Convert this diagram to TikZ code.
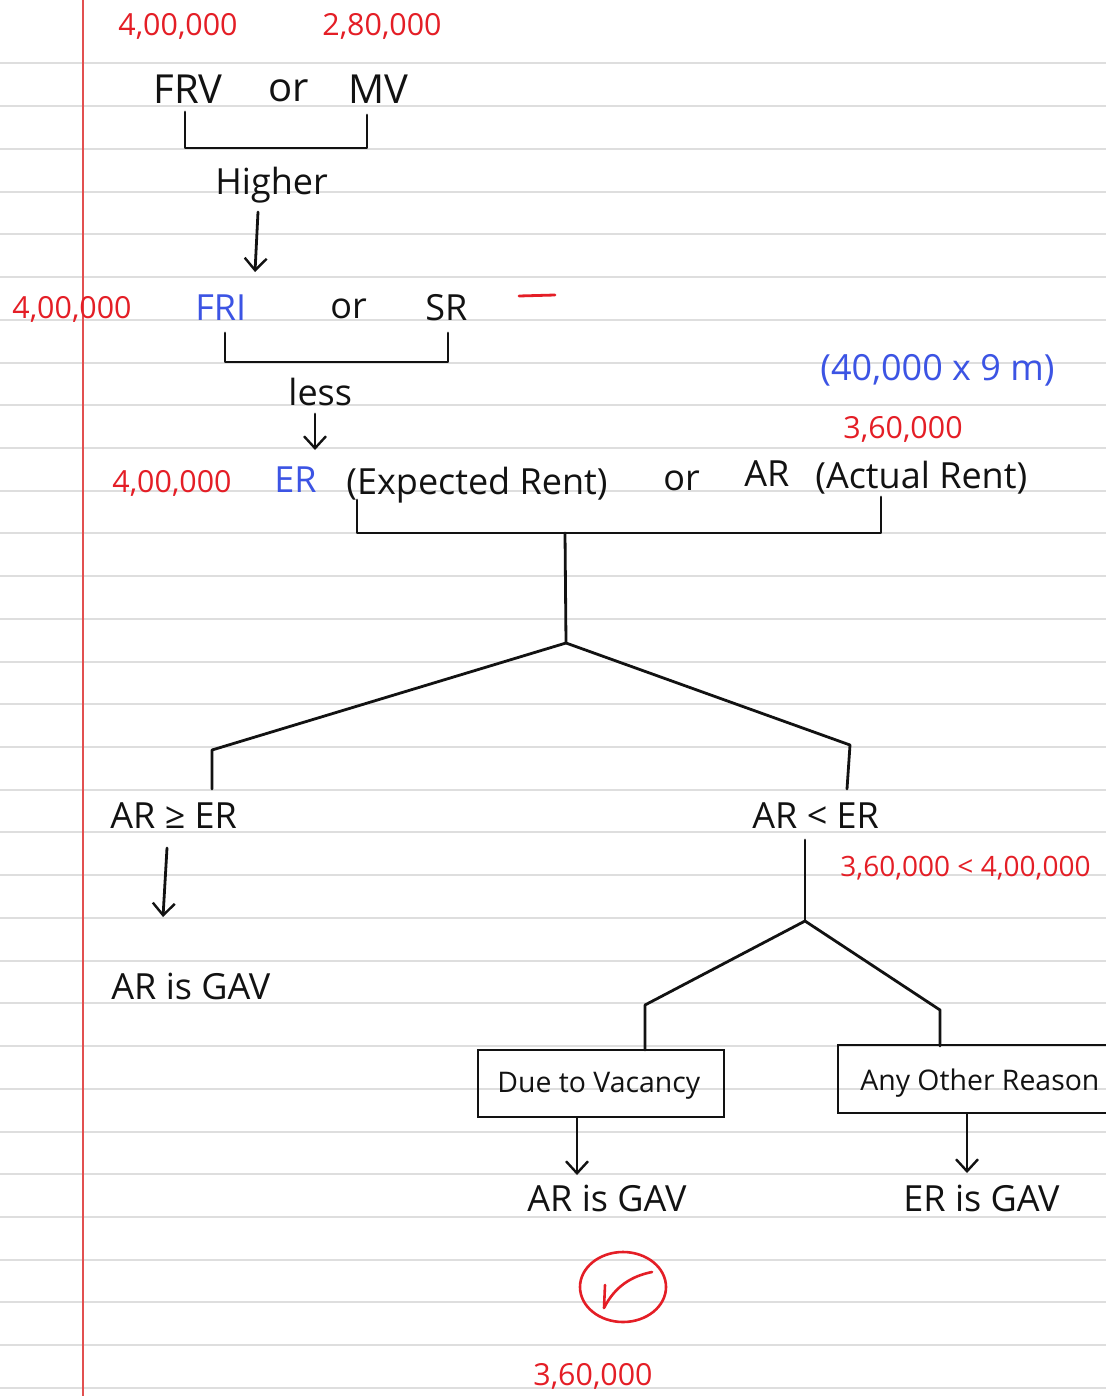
\documentclass[tikz,border=0pt]{standalone}
\usepackage{fontspec}
\setmainfont{Open Sans}
\usetikzlibrary{arrows.meta}
\definecolor{ink}{RGB}{18,18,18}
\definecolor{penred}{RGB}{228,30,38}
\definecolor{penblue}{RGB}{60,84,228}
\definecolor{ruling}{RGB}{222,222,222}
\definecolor{marginred}{RGB}{226,80,80}
\begin{document}
\begin{tikzpicture}[x=0.5pt,y=-0.5pt,
  txt/.style={inner sep=0pt, anchor=base west, text=ink, font=\fontsize{18}{20}\selectfont},
  big/.style={txt, font=\fontsize{20}{22}\selectfont},
  small/.style={txt, font=\fontsize{14.2}{16}\selectfont},
  num/.style={txt, text=penred, font=\fontsize{15.2}{17}\selectfont},
  blu/.style={txt, text=penblue},
  pen/.style={draw=ink, line width=1.4pt, line cap=round, line join=round},
  arr/.style={pen, -{Straight Barb[length=6pt,width=11pt,line width=1.2pt]}},
  boxed/.style={draw=ink, line width=1.4pt, inner sep=0pt}
]
% page and ruling
\useasboundingbox (0,0) rectangle (1106,1396);
\fill[white] (0,0) rectangle (1106,1396);
\foreach \k in {0,...,31}
  \draw[ruling, line width=1pt] (0,{63.5+42.72*\k}) -- (1106,{63.5+42.72*\k});
\draw[marginred, line width=0.8pt] (83,0) -- (83,1396);

% first row: FRV or MV
\node[num] (v1) at (118,36) {4,00,000};
\node[num] (v2) at (322,36) {2,80,000};
\node[big] (frv) at (153,104) {FRV};
\node[big] (or1) at (268,102) {or};
\node[big] (mv) at (348,104) {MV};
\coordinate (b1l) at (185,112);
\coordinate (b1r) at (367,115);
\draw[pen] (b1l) -- (185,148) -- (367,148) -- (b1r);
\node[txt] (higher) at (215,195) {Higher};
\coordinate (a1s) at (258,212);
\coordinate (a1e) at (255,272);
\draw[arr] (a1s) -- (a1e);

% second row: FRI or SR
\node[num] (v3) at (12,318) {4,00,000};
\node[blu] (fri) at (195,320) {FRI};
\node[txt] (or2) at (330,318) {or};
\node[txt] (sr) at (425,320) {SR};
\coordinate (dashl) at (519,296);
\coordinate (dashr) at (555,295);
\draw[penred, line width=1.4pt, line cap=round] (dashl) -- (dashr);
\coordinate (b2l) at (225,333);
\coordinate (b2r) at (448,333);
\draw[pen] (b2l) -- (225,362) -- (448,362) -- (b2r);
\node[txt] (less) at (288,405) {less};
\coordinate (a2s) at (315,414);
\coordinate (a2e) at (315,450);
\draw[arr] (a2s) -- (a2e);

% third row: ER or AR
\node[blu] (calc) at (820,380) {(40,000 x 9 m)};
\node[num] (v4) at (843,438) {3,60,000};
\node[num] (v5) at (112,492) {4,00,000};
\node[blu] (er) at (274,492) {ER};
\node[txt] (erlong) at (346,494) {(Expected Rent)};
\node[txt] (or3) at (663,490) {or};
\node[txt] (ar) at (744,486) {AR};
\node[txt] (arlong) at (815,488) {(Actual Rent)};
\coordinate (b3l) at (357,500);
\coordinate (b3r) at (881,497);
\coordinate (b3m) at (565,533);
\coordinate (fork1) at (566,643);
\draw[pen] (b3l) -- (357,533) -- (881,533) -- (b3r);
\draw[pen] (b3m) -- (fork1);

% first split
\coordinate (l1) at (212,750);
\coordinate (r1) at (850,745);
\draw[pen] (212,789) -- (l1) -- (fork1) -- (r1) -- (847,789);
\node[txt] (geq) at (110,828) {AR ≥ ER};
\node[txt] (lt) at (752,828) {AR < ER};
\node[num, font=\fontsize{14}{16}\selectfont] (cmp) at (840,876) {3,60,000 < 4,00,000};
\coordinate (a3s) at (167,848);
\coordinate (a3e) at (163,917);
\draw[arr] (a3s) -- (a3e);
\node[txt] (gav1) at (111,999) {AR is GAV};

% second split
\coordinate (s2) at (805,840);
\coordinate (fork2) at (805,921);
\coordinate (l2) at (645,1005);
\coordinate (r2) at (940,1010);
\draw[pen] (s2) -- (fork2);
\draw[pen] (645,1050) -- (l2) -- (fork2) -- (r2) -- (940,1046);
\node[boxed, minimum width=246*0.5pt, minimum height=67*0.5pt] (vac) at (601,1083.5) {};
\node[small] (vactxt) at (497,1092) {Due to Vacancy};
\node[boxed, minimum width=290*0.5pt, minimum height=68*0.5pt] (oth) at (983,1079) {};
\node[small] (othtxt) at (860,1090) {Any Other Reason};
\coordinate (a4e) at (577,1175);
\coordinate (a5e) at (967,1173);
\draw[arr] (vac.south -| a4e) -- (a4e);
\draw[arr] (oth.south -| a5e) -- (a5e);
\node[txt] (gav2) at (527,1211) {AR is GAV};
\node[txt] (gav3) at (903,1211) {ER is GAV};

% tick mark in a circle and the chosen value
\draw[penred, line width=1.3pt] (623,1287) ellipse [x radius=43, y radius=35];
\draw[penred, line width=1.3pt, line cap=round, line join=round]
  (605,1285) -- (604,1308) .. controls (615,1286) and (632,1276) .. (652,1272);
\node[num] (v6) at (533,1385) {3,60,000};
\end{tikzpicture}
\end{document}
